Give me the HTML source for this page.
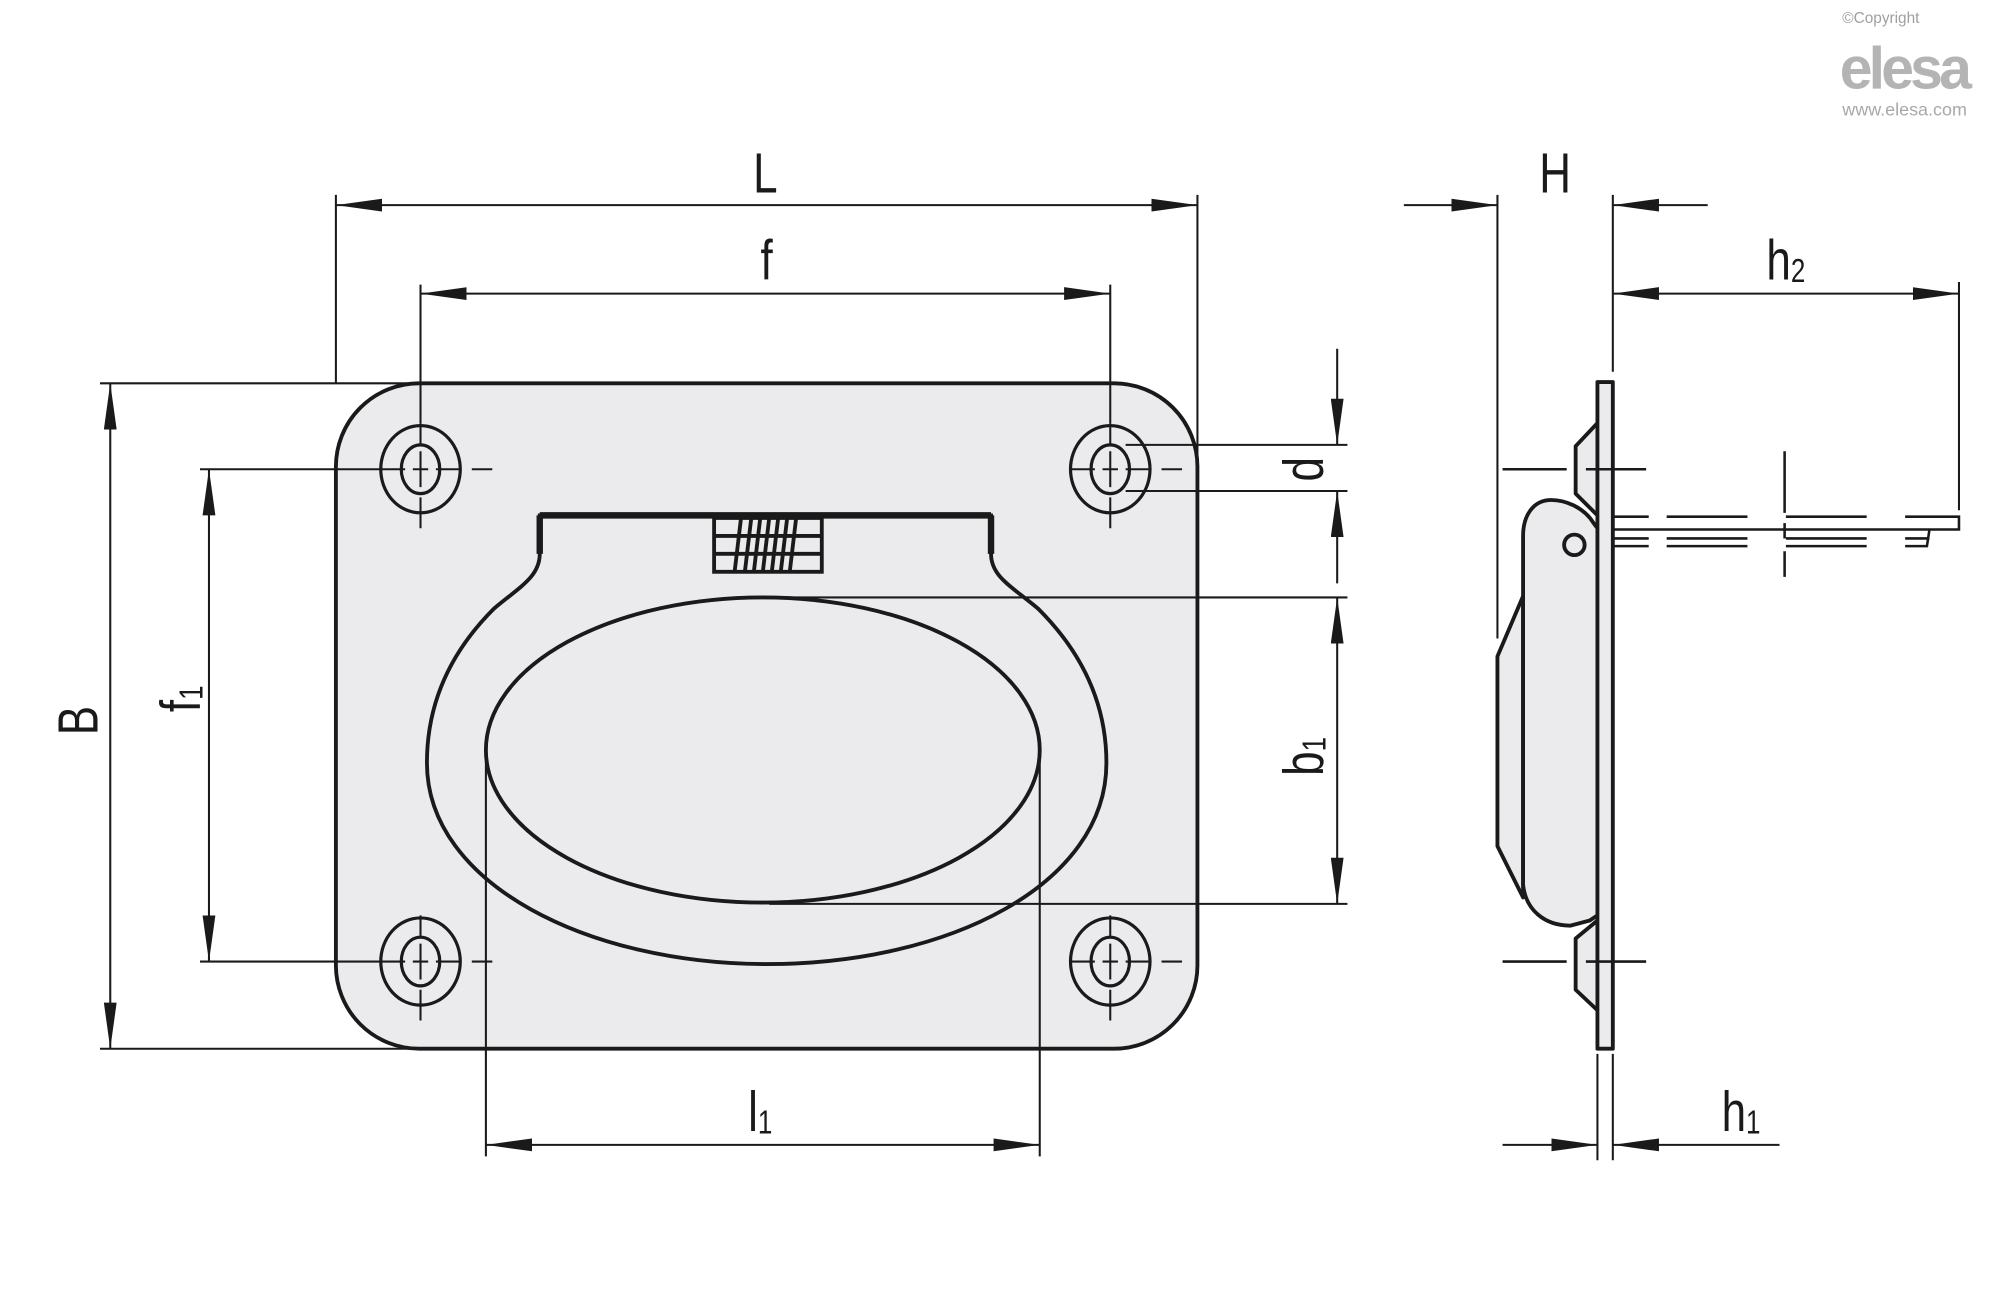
<!DOCTYPE html>
<html><head><meta charset="utf-8"><style>
html,body{margin:0;padding:0;background:#fff;}
svg{display:block;}
text{font-family:"Liberation Sans Narrow","Liberation Sans",sans-serif;fill:#1a1a1a;}
</style></head><body>
<svg width="2000" height="1300" viewBox="0 0 1560 1014" preserveAspectRatio="none" xmlns="http://www.w3.org/2000/svg">
<defs>
<marker id="a" viewBox="0 0 36 10" refX="36" refY="5" markerWidth="36" markerHeight="10" markerUnits="userSpaceOnUse" orient="auto-start-reverse">
<path d="M0,0 L36,5 L0,10 Z" fill="#1a1a1a"/></marker>
</defs>
<g stroke="#1a1a1a" fill="none">
<rect x="262" y="299" width="672" height="519" rx="65" fill="#ebebee" stroke-width="3"/>
<path d="M421,402 L773,402 L773,432 C773,450 790,458 810,475 C845,510 863,550 863,595 C863,690 740,752 598,752 C460,752 333,690 333,595 C333,550 350,510 385,475 C405,458 421,450 421,432 Z" stroke-width="3"/>
<line x1="421" y1="402" x2="773" y2="402" stroke-width="5"/>
<line x1="421" y1="402" x2="421" y2="432" stroke-width="5"/>
<line x1="773" y1="402" x2="773" y2="432" stroke-width="5"/>
<ellipse cx="595" cy="585" rx="216" ry="119" stroke-width="3"/>
<rect x="557" y="404" width="84" height="42" fill="#ebebee" stroke-width="3"/>
<line x1="557" y1="418" x2="641" y2="418" stroke-width="3"/>
<line x1="557" y1="432" x2="641" y2="432" stroke-width="3"/>
<path d="M578,404 L573,446 M586,404 L581,446 M593,404 L588,446 M600,404 L595,446 M607,404 L602,446 M614,404 L609,446 M621,404 L616,446" stroke-width="3"/>
<g stroke-width="2.5">
<ellipse cx="328" cy="366" rx="31" ry="34"/><ellipse cx="328" cy="366" rx="15" ry="19"/>
<ellipse cx="866" cy="366" rx="31" ry="34"/><ellipse cx="866" cy="366" rx="15" ry="19"/>
<ellipse cx="328" cy="750" rx="31" ry="34"/><ellipse cx="328" cy="750" rx="15" ry="19"/>
<ellipse cx="866" cy="750" rx="31" ry="34"/><ellipse cx="866" cy="750" rx="15" ry="19"/>
</g>
<g stroke-width="1.6">
<path d="M296,366 H316 M322,366 H334 M340,366 H360 M368,366 H384"/>
<path d="M834,366 H854 M860,366 H872 M878,366 H898 M906,366 H922"/>
<path d="M296,750 H316 M322,750 H334 M340,750 H360 M368,750 H384"/>
<path d="M834,750 H854 M860,750 H872 M878,750 H898 M906,750 H922"/>
<path d="M328,330 V346 M328,352 V380 M328,388 V412"/>
<path d="M866,330 V346 M866,352 V380 M866,388 V412"/>
<path d="M328,714 V730 M328,736 V764 M328,772 V796"/>
<path d="M866,714 V730 M866,736 V764 M866,772 V796"/>
</g>
<g stroke-width="1.6">
<line x1="262" y1="152" x2="262" y2="299"/><line x1="934" y1="152" x2="934" y2="360"/>
<line x1="262" y1="160" x2="934" y2="160" marker-start="url(#a)" marker-end="url(#a)"/>
<line x1="328" y1="222" x2="328" y2="330"/><line x1="866" y1="222" x2="866" y2="330"/>
<line x1="328" y1="229" x2="866" y2="229" marker-start="url(#a)" marker-end="url(#a)"/>
<line x1="78" y1="299" x2="320" y2="299"/><line x1="78" y1="818" x2="320" y2="818"/>
<line x1="86" y1="299" x2="86" y2="818" marker-start="url(#a)" marker-end="url(#a)"/>
<line x1="156" y1="366" x2="296" y2="366"/><line x1="156" y1="750" x2="296" y2="750"/>
<line x1="163" y1="366" x2="163" y2="750" marker-start="url(#a)" marker-end="url(#a)"/>
<line x1="878" y1="347" x2="1051" y2="347"/><line x1="878" y1="383" x2="1051" y2="383"/>
<line x1="1043" y1="272" x2="1043" y2="347" marker-end="url(#a)"/>
<line x1="1043" y1="455" x2="1043" y2="383" marker-end="url(#a)"/>
<line x1="600" y1="466" x2="1051" y2="466"/><line x1="600" y1="705" x2="1051" y2="705"/>
<line x1="1043" y1="466" x2="1043" y2="705" marker-start="url(#a)" marker-end="url(#a)"/>
<line x1="379" y1="585" x2="379" y2="902"/><line x1="811" y1="585" x2="811" y2="902"/>
<line x1="379" y1="893" x2="811" y2="893" marker-start="url(#a)" marker-end="url(#a)"/>
<line x1="1168" y1="152" x2="1168" y2="498"/><line x1="1258" y1="152" x2="1258" y2="290"/>
<line x1="1095" y1="160" x2="1168" y2="160" marker-end="url(#a)"/>
<line x1="1332" y1="160" x2="1258" y2="160" marker-end="url(#a)"/>
<line x1="1528" y1="220" x2="1528" y2="398"/>
<line x1="1258" y1="229" x2="1528" y2="229" marker-start="url(#a)" marker-end="url(#a)"/>
<line x1="1246" y1="822" x2="1246" y2="905"/><line x1="1258" y1="822" x2="1258" y2="905"/>
<line x1="1172" y1="893" x2="1246" y2="893" marker-end="url(#a)"/>
<line x1="1388" y1="893" x2="1258" y2="893" marker-end="url(#a)"/>
</g>
<g stroke-width="3" fill="#ebebee" stroke-linejoin="round">
<polygon points="1246,330 1229,348 1229,385 1246,402"/>
<polygon points="1246,718 1229,732 1229,772 1246,788"/>
<path d="M1188,465 L1168,512 L1168,660 L1188,700 Z"/>
<path d="M1243,408 C1235,395 1220,390 1210,390 C1196,390 1188,402 1188,418 L1188,690 C1190,710 1205,722 1225,722 L1240,718 L1246,714 L1246,412 Z"/>
<rect x="1246" y="298" width="12" height="520"/>
<circle cx="1228" cy="425" r="8" fill="none"/>
</g>
<g stroke-width="2">
<line x1="1172" y1="366" x2="1222" y2="366"/><line x1="1237" y1="366" x2="1284" y2="366"/>
<line x1="1172" y1="750" x2="1222" y2="750"/><line x1="1237" y1="750" x2="1284" y2="750"/>
<path d="M1258,403 H1286 M1300,403 H1363 M1393,403 H1456 M1486,403 H1528 V413 H1258"/>
<path d="M1258,420 H1286 M1300,420 H1363 M1393,420 H1456 M1486,420 H1505"/>
<path d="M1258,426 H1286 M1300,426 H1363 M1393,426 H1456 M1486,426 H1503 L1505,413"/>
<path d="M1392,352 V400 M1392,408 V420 M1392,430 V450"/>
</g>
</g>
<g font-size="44">
<text transform="translate(597,150) scale(0.78,1)" text-anchor="middle">L</text>
<text transform="translate(598,218) scale(0.78,1)" text-anchor="middle">f</text>
<text transform="translate(593,882) scale(0.78,1)" text-anchor="middle">l<tspan font-size="26" dy="2">1</tspan></text>
<text transform="translate(1213,150) scale(0.78,1)" text-anchor="middle">H</text>
<text transform="translate(1393,218) scale(0.78,1)" text-anchor="middle">h<tspan font-size="26" dy="2">2</tspan></text>
<text transform="translate(1358,882) scale(0.78,1)" text-anchor="middle">h<tspan font-size="26" dy="2">1</tspan></text>
<text transform="translate(76,562) rotate(-90) scale(0.78,1)" text-anchor="middle">B</text>
<text transform="translate(156,545) rotate(-90) scale(0.78,1)" text-anchor="middle">f<tspan font-size="26" dy="2">1</tspan></text>
<text transform="translate(1032,366) rotate(-90) scale(0.78,1)" text-anchor="middle">d</text>
<text transform="translate(1032,590) rotate(-90) scale(0.78,1)" text-anchor="middle">b<tspan font-size="26" dy="2">1</tspan></text>
</g>
<text x="1437" y="18" font-size="12" style="fill:#a0a0a0;font-family:'Liberation Sans',sans-serif">©Copyright</text>
<text x="1435" y="69" font-size="46" font-weight="bold" style="fill:#b4b4b4;font-family:'Liberation Sans',sans-serif;letter-spacing:-3px">elesa</text>
<text x="1437" y="90" font-size="14" style="fill:#a8a8a8;font-family:'Liberation Sans',sans-serif">www.elesa.com</text>
</svg>
</body></html>
